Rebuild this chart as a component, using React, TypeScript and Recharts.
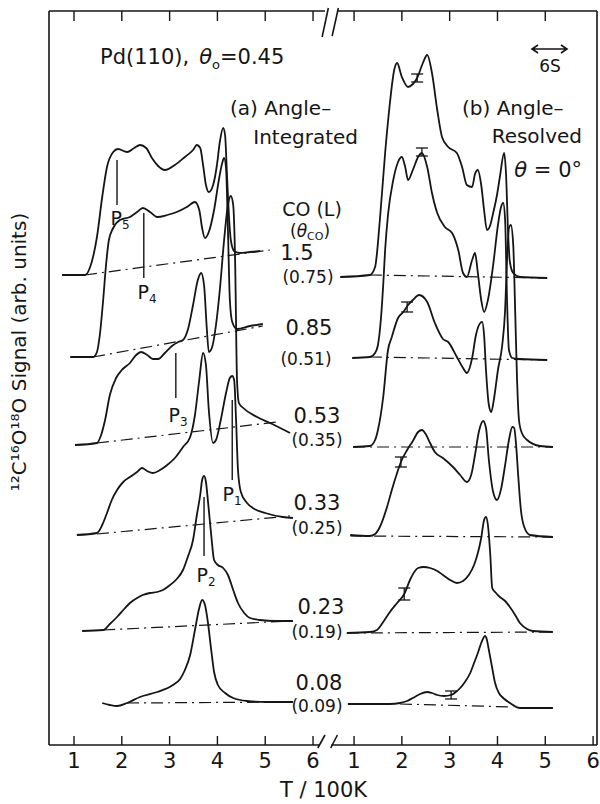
import React from "react";
import { ComposedChart, XAxis, YAxis, Line, ReferenceLine, Scatter, ErrorBar } from "recharts";

const INK = "#151515";
const FONT = "'DejaVu Sans', sans-serif";

// the right panel (b) shares the x scale, shifted past the axis break
const SHIFT = 5.858;
const X_MIN = 0.477;
const X_MAX = 11.94;
const Y_MAX = 734;

const tickValues = [1, 2, 3, 4, 5, 6];

// (a) angle-integrated, [T/100K, signal]
const intCO150 = [[0.75, 470], [1.23, 470], [1.33, 477], [1.48, 508], [1.59, 548], [1.69, 578], [1.82, 593], [1.92, 596], [2.11, 593], [2.26, 597], [2.38, 600], [2.51, 597], [2.63, 587], [2.76, 579], [2.9, 575], [3.11, 580], [3.32, 588], [3.49, 595], [3.57, 600], [3.64, 597], [3.7, 580], [3.76, 560], [3.82, 553], [3.91, 560], [3.99, 580], [4.05, 603], [4.12, 617], [4.16, 610], [4.2, 570], [4.24, 530], [4.28, 505], [4.35, 494], [4.47, 492], [4.68, 493], [4.89, 494]];
const intCO085 = [[0.92, 388], [1.4, 388], [1.48, 393], [1.54, 410], [1.61, 445], [1.67, 480], [1.73, 505], [1.82, 517], [1.96, 525], [2.17, 528], [2.32, 533], [2.44, 537], [2.59, 533], [2.74, 528], [2.95, 530], [3.15, 533], [3.36, 538], [3.53, 543], [3.62, 535], [3.68, 517], [3.74, 507], [3.82, 513], [3.93, 535], [4.03, 565], [4.1, 582], [4.14, 587], [4.18, 577], [4.22, 515], [4.26, 445], [4.31, 423], [4.41, 416], [4.68, 419], [4.95, 421]];
const intCO053 = [[1.02, 300], [1.48, 302], [1.56, 309], [1.65, 325], [1.75, 350], [1.88, 367], [2.0, 375], [2.17, 382], [2.3, 390], [2.4, 393], [2.53, 390], [2.65, 386], [2.76, 386], [2.9, 392], [3.05, 399], [3.18, 403], [3.28, 405], [3.38, 415], [3.49, 440], [3.59, 465], [3.66, 472], [3.72, 460], [3.78, 415], [3.82, 393], [3.89, 398], [3.97, 420], [4.05, 455], [4.14, 505], [4.22, 540], [4.28, 549], [4.33, 540], [4.37, 485], [4.41, 365], [4.45, 342], [4.54, 337], [4.83, 328], [5.1, 322], [5.52, 312]];
const intCO033 = [[1.06, 210], [1.48, 212], [1.59, 220], [1.69, 232], [1.79, 245], [1.9, 255], [2.03, 263], [2.17, 268], [2.32, 273], [2.42, 277], [2.53, 274], [2.65, 272], [2.8, 275], [2.95, 280], [3.11, 287], [3.28, 298], [3.43, 308], [3.53, 330], [3.62, 365], [3.7, 392], [3.76, 380], [3.82, 335], [3.91, 302], [3.97, 305], [4.07, 325], [4.18, 352], [4.26, 367], [4.31, 369], [4.35, 365], [4.39, 325], [4.43, 275], [4.49, 253], [4.62, 242], [4.74, 237], [5.0, 232], [5.37, 228], [5.58, 227]];
const intCO023 = [[1.17, 114], [1.61, 115], [1.75, 121], [1.9, 128], [2.05, 136], [2.17, 142], [2.32, 147], [2.44, 150], [2.59, 152], [2.74, 153], [2.86, 155], [3.01, 160], [3.15, 166], [3.28, 175], [3.38, 188], [3.49, 205], [3.57, 230], [3.64, 250], [3.68, 265], [3.72, 269], [3.76, 263], [3.8, 245], [3.87, 210], [3.93, 185], [4.01, 180], [4.12, 177], [4.22, 170], [4.33, 155], [4.43, 142], [4.56, 132], [4.68, 127], [4.89, 125], [5.21, 124], [5.58, 124]];
const intCO008 = [[1.59, 42], [1.75, 40], [1.9, 39], [2.11, 42], [2.38, 48], [2.74, 53], [3.07, 60], [3.22, 66], [3.32, 75], [3.43, 90], [3.53, 115], [3.62, 137], [3.68, 145], [3.74, 140], [3.8, 123], [3.87, 95], [3.93, 73], [4.01, 60], [4.16, 52], [4.33, 47], [4.62, 44], [5.04, 43], [5.58, 43]];

// (b) angle-resolved, theta = 0
const resCO150 = [[0.71, 468], [1.33, 470], [1.44, 478], [1.54, 525], [1.65, 592], [1.75, 642], [1.84, 675], [1.9, 682], [2.0, 668], [2.13, 658], [2.23, 661], [2.32, 667], [2.44, 682], [2.53, 690], [2.63, 672], [2.74, 635], [2.84, 608], [2.97, 598], [3.15, 592], [3.26, 578], [3.36, 560], [3.47, 558], [3.53, 571], [3.59, 575], [3.66, 560], [3.72, 535], [3.78, 515], [3.85, 520], [3.91, 532], [3.99, 550], [4.05, 568], [4.14, 592], [4.18, 570], [4.22, 515], [4.26, 483], [4.33, 472], [4.47, 468], [5.04, 467]];
const resCO085 = [[0.96, 387], [1.33, 388], [1.44, 392], [1.5, 400], [1.56, 425], [1.61, 460], [1.65, 495], [1.71, 530], [1.82, 565], [1.92, 583], [2.0, 588], [2.07, 578], [2.13, 565], [2.23, 575], [2.34, 588], [2.42, 592], [2.53, 578], [2.63, 552], [2.74, 532], [2.9, 518], [3.05, 512], [3.18, 495], [3.28, 472], [3.36, 468], [3.47, 485], [3.53, 492], [3.59, 472], [3.66, 445], [3.72, 433], [3.8, 445], [3.91, 480], [4.01, 520], [4.07, 537], [4.12, 542], [4.16, 525], [4.2, 445], [4.24, 395], [4.31, 387], [4.47, 386], [5.04, 385]];
const resCO053 = [[0.98, 298], [1.33, 299], [1.44, 305], [1.5, 315], [1.61, 348], [1.71, 395], [1.79, 408], [1.92, 427], [2.03, 433], [2.13, 440], [2.23, 445], [2.36, 450], [2.53, 443], [2.69, 422], [2.86, 406], [2.97, 403], [3.15, 388], [3.28, 377], [3.36, 372], [3.47, 387], [3.55, 410], [3.64, 422], [3.68, 423], [3.72, 410], [3.76, 375], [3.82, 340], [3.87, 333], [3.93, 347], [4.01, 375], [4.1, 400], [4.16, 435], [4.2, 485], [4.24, 517], [4.28, 520], [4.33, 500], [4.37, 435], [4.41, 365], [4.45, 325], [4.51, 312], [4.62, 305], [4.89, 299], [5.16, 298]];
const resCO033 = [[0.92, 210], [1.33, 209], [1.44, 211], [1.54, 218], [1.69, 238], [1.79, 255], [1.9, 272], [1.98, 283], [2.11, 295], [2.23, 304], [2.34, 313], [2.42, 315], [2.51, 310], [2.59, 302], [2.69, 293], [2.86, 287], [3.07, 278], [3.22, 270], [3.36, 263], [3.45, 270], [3.53, 290], [3.61, 313], [3.7, 324], [3.76, 317], [3.82, 285], [3.91, 253], [3.99, 245], [4.08, 257], [4.16, 280], [4.24, 305], [4.31, 318], [4.35, 317], [4.39, 300], [4.43, 272], [4.49, 235], [4.56, 218], [4.68, 210], [5.16, 208]];
const resCO023 = [[0.85, 112], [1.33, 113], [1.48, 115], [1.61, 123], [1.75, 133], [1.9, 142], [2.05, 151], [2.17, 165], [2.26, 173], [2.34, 177], [2.46, 178], [2.59, 177], [2.74, 174], [2.86, 170], [3.01, 165], [3.15, 162], [3.28, 164], [3.4, 170], [3.51, 180], [3.59, 192], [3.66, 207], [3.72, 225], [3.76, 228], [3.8, 220], [3.85, 190], [3.89, 157], [3.95, 153], [4.05, 148], [4.16, 144], [4.26, 138], [4.37, 130], [4.47, 122], [4.62, 116], [4.74, 114], [5.16, 113]];
const resCO008 = [[0.87, 41], [1.33, 41], [1.75, 41], [1.96, 42], [2.11, 44], [2.23, 47], [2.38, 51], [2.53, 53], [2.63, 52], [2.74, 50], [2.88, 49], [3.03, 50], [3.13, 53], [3.22, 57], [3.32, 63], [3.43, 72], [3.51, 82], [3.59, 92], [3.66, 102], [3.74, 109], [3.78, 105], [3.82, 95], [3.89, 77], [3.95, 62], [4.03, 52], [4.12, 47], [4.26, 42], [4.47, 37], [4.74, 37], [5.16, 37]];

// dash-dot baselines
const intBases = [
  [[1.23, 470], [5.1, 495]],
  [[1.4, 388], [4.95, 419]],
  [[1.48, 302], [5.25, 323]],
  [[1.48, 211], [5.52, 229]],
  [[1.61, 115], [5.52, 124]],
  [[2.11, 42], [5.58, 43]],
];
const resBases = [
  [[1.33, 470], [5.04, 467]],
  [[1.33, 388], [5.04, 385]],
  [[0.98, 298], [5.16, 298]],
  [[0.92, 209], [5.16, 208]],
  [[0.85, 112], [5.2, 113]],
  [[1.96, 41], [4.33, 38]],
];

// peak markers in panel (a)
const peakMarks = [
  { name: "5", t: 1.9, top: 585, bottom: 540 },
  { name: "4", t: 2.46, top: 532, bottom: 467 },
  { name: "3", t: 3.13, top: 392, bottom: 347 },
  { name: "1", t: 4.31, top: 345, bottom: 265 },
  { name: "2", t: 3.72, top: 248, bottom: 189 },
];

// error bars in panel (b)
const resErrors = [
  { t: 2.32, y: 667, err: 4 },
  { t: 2.42, y: 593, err: 4 },
  { t: 2.11, y: 438, err: 5 },
  { t: 1.98, y: 283, err: 5 },
  { t: 2.05, y: 151, err: 6 },
  { t: 3.03, y: 50, err: 4 },
];

const doses = ["1.5", "0.85", "0.53", "0.33", "0.23", "0.08"];
const coverages = ["(0.75)", "(0.51)", "(0.35)", "(0.25)", "(0.19)", "(0.09)"];

const rows = (pts: number[][], shift = 0) => pts.map(([t, s]) => ({ x: t + shift, y: s }));

const intCurves = [intCO150, intCO085, intCO053, intCO033, intCO023, intCO008];
const resCurves = [resCO150, resCO085, resCO053, resCO033, resCO023, resCO008];

const bottomTicks = [...tickValues, ...tickValues.map((t) => t + SHIFT)];
const topTicks = [...tickValues, ...tickValues.slice(0, 5).map((t) => t + SHIFT)];

const frame = [
  [[X_MIN, 0], [X_MIN, Y_MAX]],
  [[X_MAX, 0], [X_MAX, Y_MAX]],
  [[X_MIN, 0], [6.13, 0]],
  [[6.38, 0], [X_MAX, 0]],
  [[6.1, -3], [6.25, 10]],
  [[6.37, -3], [6.51, 10]],
  [[X_MIN, Y_MAX], [6.25, Y_MAX]],
  [[6.5, Y_MAX], [X_MAX, Y_MAX]],
  [[6.19, 708], [6.32, 737]],
  [[6.4, 709], [6.53, 737]],
];

const labelPos = [
  { x: 297, y: 260, cx: 308, cy: 283 },
  { x: 309, y: 335, cx: 306, cy: 365 },
  { x: 317, y: 423, cx: 317, cy: 446 },
  { x: 317, y: 510, cx: 317, cy: 534 },
  { x: 321, y: 614, cx: 317, cy: 638 },
  { x: 319, y: 690, cx: 317, cy: 712 },
];
const markLabelPos = [
  { x: 120, y: 225 },
  { x: 147, y: 299 },
  { x: 178, y: 422 },
  { x: 232, y: 501 },
  { x: 206, y: 582 },
];

const formatTick = (v: number) => String(Math.round(v > 6.5 ? v - SHIFT : v));

export default function App() {
  const lineProps = {
    xAxisId: "b",
    dataKey: "y",
    type: "monotone" as const,
    dot: false,
    activeDot: false,
    stroke: INK,
    isAnimationActive: false,
  };
  return (
    <div style={{ position: "absolute", left: 0, top: 0, width: 600, height: 804, background: "#fff" }}>
      <ComposedChart width={600} height={804} margin={{ top: 11, right: 3, bottom: 19, left: 49 }}>
        <XAxis
          xAxisId="b"
          type="number"
          dataKey="x"
          domain={[X_MIN, X_MAX]}
          allowDataOverflow
          ticks={bottomTicks}
          interval={0}
          tickFormatter={formatTick}
          tickLine={false}
          axisLine={false}
          tickSize={0}
          tickMargin={8}
          height={40}
          tick={{ fontSize: 21, fontFamily: FONT, fill: INK }}
        />
        <YAxis type="number" dataKey="y" domain={[0, Y_MAX]} allowDataOverflow hide width={0} />

        {frame.map(([a, b], i) => (
          <ReferenceLine key={"f" + i} xAxisId="b" ifOverflow="visible" stroke={INK} strokeWidth={1.6}
            segment={[{ x: a[0], y: a[1] }, { x: b[0], y: b[1] }]} />
        ))}
        {bottomTicks.map((t) => (
          <ReferenceLine key={"bt" + t} xAxisId="b" ifOverflow="visible" stroke={INK} strokeWidth={1.4}
            segment={[{ x: t, y: 0 }, { x: t, y: 9 }]} />
        ))}
        {topTicks.map((t) => (
          <ReferenceLine key={"tt" + t} xAxisId="b" ifOverflow="visible" stroke={INK} strokeWidth={1.4}
            segment={[{ x: t, y: Y_MAX }, { x: t, y: Y_MAX - 10 }]} />
        ))}
        {peakMarks.map((m) => (
          <ReferenceLine key={"p" + m.name} xAxisId="b" ifOverflow="visible" stroke={INK} strokeWidth={1.4}
            segment={[{ x: m.t, y: m.top }, { x: m.t, y: m.bottom }]} />
        ))}

        {intBases.map((b, i) => (
          <Line key={"ib" + i} {...lineProps} type="linear" data={rows(b)} strokeWidth={1.2} strokeDasharray="12 5 2 5" />
        ))}
        {resBases.map((b, i) => (
          <Line key={"rb" + i} {...lineProps} type="linear" data={rows(b, SHIFT)} strokeWidth={1.2} strokeDasharray="12 5 2 5" />
        ))}
        {intCurves.map((c, i) => (
          <Line key={"ic" + i} {...lineProps} data={rows(c)} strokeWidth={1.8} />
        ))}
        {resCurves.map((c, i) => (
          <Line key={"rc" + i} {...lineProps} data={rows(c, SHIFT)} strokeWidth={1.8} />
        ))}

        <Scatter
          xAxisId="b"
          data={resErrors.map((e) => ({ x: e.t + SHIFT, y: e.y, err: e.err }))}
          dataKey="y"
          isAnimationActive={false}
          shape={() => <g />}
        >
          <ErrorBar dataKey="err" direction="y" width={6} stroke={INK} strokeWidth={1.3} />
        </Scatter>
      </ComposedChart>

      <svg width={600} height={804} style={{ position: "absolute", left: 0, top: 0, pointerEvents: "none" }}
        fontFamily={FONT} fill={INK}>
        <text x={100} y={64} fontSize={21}>
          Pd(110),
          <tspan dx={10} fontStyle="italic">θ</tspan>
          <tspan fontSize={13} dy={5}>o</tspan>
          <tspan dy={-5}>=0.45</tspan>
        </text>

        <text x={230} y={115} fontSize={20}>(a) Angle–</text>
        <text x={358} y={144} fontSize={20} textAnchor="end">Integrated</text>
        <text x={462} y={115} fontSize={20}>(b) Angle–</text>
        <text x={582} y={143} fontSize={20} textAnchor="end">Resolved</text>
        <text x={582} y={177} fontSize={21} textAnchor="end">
          <tspan fontStyle="italic">θ</tspan> = 0°
        </text>

        <path d="M532,49 L567,49 M538,45 L532,49 L538,53 M561,45 L567,49 L561,53" stroke={INK} strokeWidth={1.6} fill="none" />
        <text x={550} y={72} fontSize={17} textAnchor="middle">6S</text>

        <text x={312} y={216} fontSize={19} textAnchor="middle">CO (L)</text>
        <text x={310} y={237} fontSize={17} textAnchor="middle">
          (<tspan fontStyle="italic">θ</tspan>
          <tspan fontSize={11} dy={3}>CO</tspan>
          <tspan dy={-3}>)</tspan>
        </text>
        {doses.map((d, i) => (
          <g key={"lab" + i}>
            <text x={labelPos[i].x} y={labelPos[i].y} fontSize={21} textAnchor="middle">{d}</text>
            <text x={labelPos[i].cx} y={labelPos[i].cy} fontSize={17} textAnchor="middle">{coverages[i]}</text>
          </g>
        ))}

        {peakMarks.map((m, i) => (
          <text key={"pl" + m.name} x={markLabelPos[i].x} y={markLabelPos[i].y} fontSize={19} textAnchor="middle">
            P<tspan fontSize={12} dy={4}>{m.name}</tspan>
          </text>
        ))}

        <text transform="translate(26,352) rotate(-90)" fontSize={20} textAnchor="middle">
          ¹²C¹⁶O¹⁸O Signal (arb. units)
        </text>
        <text x={280} y={797} fontSize={21}>T / 100K</text>
      </svg>
    </div>
  );
}
